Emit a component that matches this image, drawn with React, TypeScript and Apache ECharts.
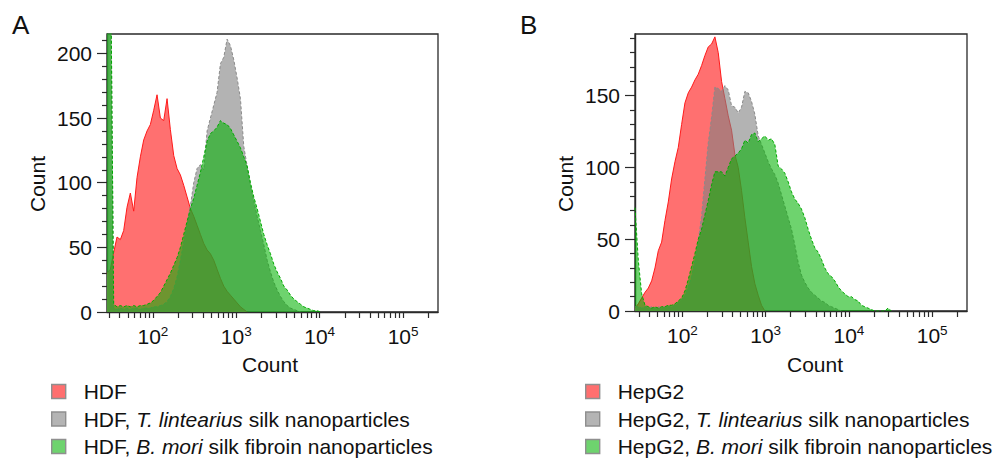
import React, { useEffect, useRef } from 'react';
import * as echarts from 'echarts';

const FONT = '"Liberation Sans", Arial, Helvetica, sans-serif';
const FS = 21;

// ---- Panel A (HDF): log10 fluorescence bin centres and counts ----
const binsA = [
  1.45, 1.49, 1.53, 1.57, 1.61, 1.65, 1.69, 1.73, 1.77, 1.81, 1.85, 1.89, 1.93, 1.97,
  2.01, 2.05, 2.09, 2.13, 2.17, 2.21, 2.25, 2.29, 2.33, 2.37, 2.41, 2.45, 2.49, 2.53, 2.57, 2.61, 2.65, 2.69, 2.73, 2.77, 2.81, 2.85, 2.89, 2.93, 2.97,
  3.01, 3.05, 3.09, 3.13, 3.17, 3.21, 3.25, 3.29, 3.33, 3.37, 3.41, 3.45, 3.49, 3.53, 3.57, 3.61, 3.65, 3.69, 3.73, 3.77, 3.81, 3.85, 3.89, 3.93, 3.97,
  4.01, 4.05,
];
const hdf = [
  30, 33, 46, 58, 56, 63, 81, 92, 78, 104, 120, 133, 140, 145,
  156, 168, 150, 148, 165, 141, 121, 111, 106, 98, 89, 80, 74, 67, 60, 53, 48, 45, 40, 33, 26, 20, 16, 13, 10,
  7, 4, 2, 0,
];
const hdfTl = [
  300, 300, 3, 2, 3, 2, 3, 2, 3, 3, 2, 3, 3, 3,
  4, 4, 5, 6, 8, 12, 18, 27, 40, 54, 68, 82, 100, 111, 114, 110, 140, 150, 160, 170, 192, 197, 211, 206, 195,
  181, 165, 128, 113, 98, 86, 74, 63, 52, 40, 31, 23, 17, 12, 8, 5, 3, 2, 1, 0,
];
const hdfBm = [
  300, 300, 6, 4, 5, 4, 5, 4, 5, 4, 5, 5, 6, 7,
  9, 12, 15, 20, 25, 30, 36, 42, 50, 60, 70, 80, 88, 98, 108, 120, 132, 138, 140, 143, 148, 146, 145, 142, 137,
  132, 127, 120, 113, 100, 89, 80, 70, 60, 52, 45, 37, 31, 26, 20, 17, 13, 10, 8, 6, 4, 3, 2, 1, 1,
  0,
];

// ---- Panel B (HepG2) ----
const binsB = [
  1.43, 1.47, 1.51, 1.55, 1.59, 1.63, 1.67, 1.71, 1.75, 1.79, 1.83, 1.87, 1.91, 1.95, 1.99,
  2.03, 2.07, 2.11, 2.15, 2.19, 2.23, 2.27, 2.31, 2.35, 2.39, 2.43, 2.47, 2.51, 2.55, 2.59, 2.63, 2.67, 2.71, 2.75, 2.79, 2.83, 2.87, 2.91, 2.95, 2.99,
  3.03, 3.07, 3.11, 3.15, 3.19, 3.23, 3.27, 3.31, 3.35, 3.39, 3.43, 3.47, 3.51, 3.55, 3.59, 3.63, 3.67, 3.71, 3.75, 3.79, 3.83, 3.87, 3.91, 3.95, 3.99,
  4.03, 4.07, 4.11, 4.15, 4.19, 4.23, 4.27, 4.31, 4.35, 4.39, 4.43, 4.47, 4.51,
];
const hepg2 = [
  2, 5, 9, 13, 16, 21, 30, 42, 48, 63, 76, 92, 104, 114, 130,
  145, 152, 156, 161, 165, 171, 178, 184, 186, 191, 180, 160, 148, 136, 126, 109, 100, 84, 65, 48, 31, 19, 11, 4, 0,
];
const hepg2Tl = [
  3, 3, 2, 3, 2, 3, 2, 3, 2, 3, 3, 3, 4, 6, 8,
  11, 17, 24, 35, 49, 66, 92, 117, 135, 156, 155, 153, 157, 154, 143, 142, 138, 142, 153, 152, 146, 137, 122, 116, 110,
  104, 99, 95, 89, 81, 73, 65, 57, 46, 34, 25, 20, 16, 13, 11, 9, 7, 6, 4, 3, 2, 1, 0,
];
const hepg2Bm = [
  72, 35, 12, 4, 3, 2, 3, 2, 3, 3, 4, 4, 5, 7, 9,
  14, 22, 31, 40, 50, 57, 67, 77, 88, 97, 97, 97, 94, 100, 106, 108, 110, 113, 119, 117, 123, 124, 118, 120, 122,
  119, 120, 116, 101, 99, 96, 90, 83, 78, 75, 71, 65, 57, 50, 44, 41, 36, 30, 26, 24, 21, 17, 14, 12, 10,
  10, 8, 7, 4, 3, 2, 1, 0, 0, 0, 0, 2, 0,
];

// ---- axes ----
const xTickIntensities = [
  30, 40, 50, 60, 70, 80, 90, 100,
  200, 300, 400, 500, 600, 700, 800, 900, 1000,
  2000, 3000, 4000, 5000, 6000, 7000, 8000, 9000, 10000,
  20000, 30000, 40000, 50000, 60000, 70000, 80000, 90000, 100000,
  200000,
];
const xLabelIntensities = [100, 1000, 10000, 100000];
const xMaxIntensity = 262144;
const yMajorA = [0, 50, 100, 150, 200];
const yMinorA = [10, 20, 30, 40, 60, 70, 80, 90, 110, 120, 130, 140, 160, 170, 180, 190, 210];
const yMajorB = [0, 50, 100, 150];
const yMinorB = [10, 20, 30, 40, 60, 70, 80, 90, 110, 120, 130, 140, 160, 170, 180, 190];

const namesA = ['HDF', 'HDF, T. lintearius silk nanoparticles', 'HDF, B. mori silk fibroin nanoparticles'];
const namesB = ['HepG2', 'HepG2, T. lintearius silk nanoparticles', 'HepG2, B. mori silk fibroin nanoparticles'];

const AXIS_COLOR = '#2a2a2a';
const TEXT_COLOR = '#111';

const styles = [
  { line: '#ff1a1a', dash: 'solid', fill: 'rgba(255,112,112,1)', legend: '#ff6f6f' },
  { line: '#8a8a8a', dash: [3, 2], fill: 'rgba(128,128,128,0.6)', legend: '#b4b4b4' },
  { line: '#00aa00', dash: [3, 2], fill: 'rgba(0,178,0,0.57)', legend: '#6ed36e' },
];

const log10 = (v: number) => Math.log10(v);

function xAxisFor(gridIndex: number, min: number) {
  return {
    type: 'value',
    gridIndex,
    min,
    max: log10(xMaxIntensity),
    axisLine: { show: true, onZero: false, lineStyle: { color: AXIS_COLOR, width: 1.4 } },
    axisTick: {
      show: true,
      length: 6,
      customValues: xTickIntensities.map(log10),
      lineStyle: { color: AXIS_COLOR, width: 1.2 },
    },
    axisLabel: {
      customValues: xLabelIntensities.map(log10),
      margin: 12,
      formatter: (v: number) => '{b|10}{s|' + Math.round(v) + '}',
      rich: {
        b: { fontSize: FS, lineHeight: 25, fontFamily: FONT, color: TEXT_COLOR },
        s: { fontSize: 13.5, verticalAlign: 'top', fontFamily: FONT, color: TEXT_COLOR },
      },
    },
    splitLine: { show: false },
  };
}

function yAxesFor(gridIndex: number, max: number, majors: number[], minors: number[]) {
  return [
    {
      type: 'value',
      gridIndex,
      position: 'left',
      min: 0,
      max,
      axisLine: { show: true, onZero: false, lineStyle: { color: AXIS_COLOR, width: 1.4 } },
      axisTick: { show: true, length: 10, customValues: majors, lineStyle: { color: AXIS_COLOR, width: 1.2 } },
      axisLabel: { customValues: majors, margin: 15, fontSize: FS, fontFamily: FONT, color: TEXT_COLOR },
      splitLine: { show: false },
    },
    {
      type: 'value',
      gridIndex,
      position: 'left',
      min: 0,
      max,
      axisLine: { show: false },
      axisTick: { show: true, length: 5, customValues: minors, lineStyle: { color: AXIS_COLOR, width: 1.2 } },
      axisLabel: { show: false },
      splitLine: { show: false },
    },
  ];
}

function seriesFor(names: string[], bins: number[], sets: number[][], axisIndex: number, yIndex: number) {
  return sets.map((vals, i) => ({
    type: 'line',
    name: names[i],
    xAxisIndex: axisIndex,
    yAxisIndex: yIndex,
    data: vals.map((v, j) => [bins[j], v]),
    symbol: 'none',
    showSymbol: false,
    silent: true,
    z: 2 + i,
    color: styles[i].legend,
    lineStyle: { color: styles[i].line, width: 1, type: styles[i].dash },
    areaStyle: { color: styles[i].fill, opacity: 1 },
  }));
}

function richName(name: string) {
  return name.replace('T. lintearius', '{i|T. lintearius}').replace('B. mori', '{i|B. mori}');
}

function legendFor(names: string[], left: number) {
  return {
    orient: 'vertical',
    left,
    top: 380,
    height: 90,
    padding: 0,
    itemWidth: 14,
    itemHeight: 14,
    itemGap: 4.5,
    icon: 'rect',
    selectedMode: false,
    data: names.map((n, i) => ({
      name: n,
      itemStyle: { color: styles[i].legend, borderColor: '#8f8f8f', borderWidth: 1.4 },
    })),
    formatter: richName,
    textStyle: {
      fontSize: FS,
      fontFamily: FONT,
      color: TEXT_COLOR,
      lineHeight: 23,
      padding: [0, 0, 0, 13],
      rich: {
        i: { fontSize: FS, fontStyle: 'italic', fontFamily: FONT, color: TEXT_COLOR, lineHeight: 23 },
      },
    },
  };
}

function titleText(text: string, x: number, y: number, size: number, rotate = 0, align = 'center') {
  return {
    type: 'text',
    x,
    y,
    rotation: rotate,
    silent: true,
    style: {
      text,
      fontSize: size,
      fontFamily: FONT,
      fill: TEXT_COLOR,
      align,
      verticalAlign: 'middle',
    },
  };
}

const option = {
  animation: false,
  backgroundColor: '#ffffff',
  textStyle: { fontFamily: FONT },
  grid: [
    { left: 107, top: 34, width: 331, height: 278, show: true, borderColor: AXIS_COLOR, borderWidth: 1.3, backgroundColor: 'transparent' },
    { left: 635, top: 34, width: 332, height: 277, show: true, borderColor: AXIS_COLOR, borderWidth: 1.3, backgroundColor: 'transparent' },
  ],
  xAxis: [xAxisFor(0, 1.45), xAxisFor(1, 1.43)],
  yAxis: [...yAxesFor(0, 215, yMajorA, yMinorA), ...yAxesFor(1, 193, yMajorB, yMinorB)],
  legend: [legendFor(namesA, 51), legendFor(namesB, 585)],
  series: [
    ...seriesFor(namesA, binsA, [hdf, hdfTl, hdfBm], 0, 0),
    ...seriesFor(namesB, binsB, [hepg2, hepg2Tl, hepg2Bm], 1, 2),
  ],
  graphic: [
    titleText('A', 12, 25, 26, 0, 'left'),
    titleText('B', 520, 25, 26, 0, 'left'),
    titleText('Count', 37.5, 184, FS, Math.PI / 2),
    titleText('Count', 565, 184, FS, Math.PI / 2),
    titleText('Count', 270, 364, FS),
    titleText('Count', 815, 364, FS),
  ],
};

export default function App() {
  const ref = useRef<HTMLDivElement>(null);
  useEffect(() => {
    const chart = echarts.init(ref.current as HTMLDivElement, null, { renderer: 'svg' });
    chart.setOption(option as any);
    return () => chart.dispose();
  }, []);
  return (
    <div
      ref={ref}
      style={{ position: 'absolute', left: 0, top: 0, width: 1004, height: 458, background: '#fff' }}
    />
  );
}
